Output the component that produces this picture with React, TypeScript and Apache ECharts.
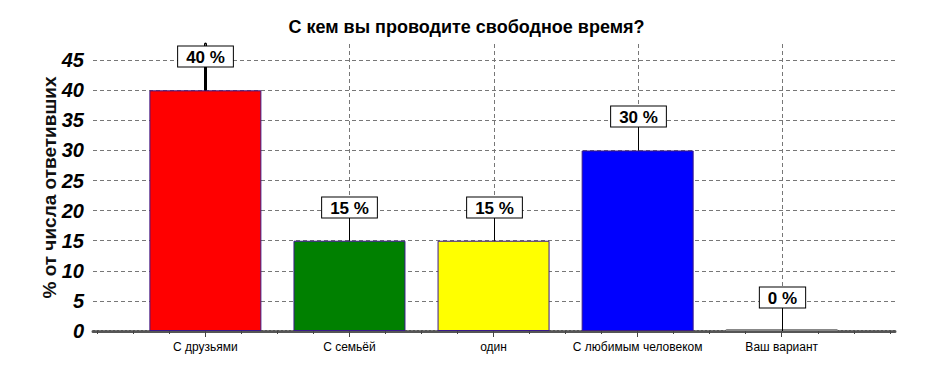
import React, { useEffect, useRef } from "react";
import * as echarts from "echarts";

const title = "С кем вы проводите свободное время?";
const yAxisName = "% от числа ответивших";
const categories = ["С друзьями", "С семьёй", "один", "С любимым человеком", "Ваш вариант"];
const values = [40, 15, 15, 30, 0];
const barColors = ["#ff0000", "#008000", "#ffff00", "#0000ff", "#ffffff"];
const yTicks = [0, 5, 10, 15, 20, 25, 30, 35, 40, 45];

const X_MIN = -0.78;
const X_MAX = 4.8;
const Y_MAX = 47.7;

export default function App() {
  const ref = useRef<HTMLDivElement>(null);
  useEffect(() => {
    document.body.style.margin = "0";
    if (!ref.current) return;
    const chart = echarts.init(ref.current, undefined, { renderer: "svg" });
    const pts = values.map((v, i) => [i, v]);
    const minorTicks: number[] = [];
    for (let k = -3; k <= 19; k++) minorTicks.push(k / 4);
    const majorTicks = categories.map((_, i) => i);
    chart.setOption({
      animation: false,
      backgroundColor: "#ffffff",
      title: {
        text: title,
        left: "center",
        top: 13,
        textStyle: { fontFamily: "Liberation Sans", fontWeight: "bold", fontSize: 18, color: "#000" },
      },
      grid: { left: 93, right: 36, top: 44, bottom: 39, containLabel: false },
      xAxis: [
        {
          type: "value",
          min: X_MIN,
          max: X_MAX,
          position: "bottom",
          axisLine: { show: true, onZero: false, lineStyle: { color: "#555", width: 3, type: [2, 2] } },
          axisTick: { show: true, customValues: minorTicks, length: 3, lineStyle: { color: "#444", width: 1 } },
          axisLabel: { show: false },
          splitLine: { show: false },
        },
        {
          type: "value",
          min: X_MIN,
          max: X_MAX,
          position: "bottom",
          axisLine: { show: false },
          axisTick: { show: true, customValues: majorTicks, length: 6, lineStyle: { color: "#444", width: 1 } },
          axisLabel: {
            show: true,
            customValues: majorTicks,
            margin: 10,
            fontFamily: "Liberation Sans",
            fontSize: 12,
            color: "#000",
            formatter: (v: number) => categories[Math.round(v)] ?? "",
          },
          splitLine: { show: false },
        },
      ],
      yAxis: {
        type: "value",
        min: 0,
        max: Y_MAX,
        interval: 5,
        name: yAxisName,
        nameLocation: "middle",
        nameGap: 34,
        nameMoveOverlap: false,
        nameTextStyle: { fontFamily: "Liberation Sans", fontWeight: "bold", fontSize: 19, color: "#111" },
        axisLine: { show: true, lineStyle: { color: "#000", width: 3 } },
        axisTick: { show: false },
        axisLabel: {
          margin: 9,
          fontFamily: "Liberation Sans",
          fontStyle: "italic",
          fontWeight: "bold",
          fontSize: 20,
          color: "#000",
          formatter: (v: number) => (yTicks.includes(Math.round(v * 100) / 100) ? String(v) : ""),
        },
        splitLine: { show: true, showMaxLine: false, lineStyle: { color: "#777", type: [4, 3], width: 1 } },
      },
      series: [
        {
          type: "custom",
          z: 1,
          silent: true,
          xAxisIndex: 0,
          data: pts,
          renderItem: (params: any, api: any) => {
            const i = api.value(0);
            const top = api.coord([i, Y_MAX]);
            const bot = api.coord([i, 0]);
            const x = Math.round(top[0]) + 0.5;
            return {
              type: "line",
              shape: { x1: x, y1: top[1], x2: x, y2: bot[1] },
              style: { stroke: "#777", lineWidth: 1, lineDash: [4, 3] },
            };
          },
        },
        {
          type: "bar",
          z: 2,
          xAxisIndex: 0,
          barWidth: 112,
          barMinHeight: 2,
          data: pts.map((p, i) => ({
            value: p,
            itemStyle: {
              color: barColors[i],
              borderColor: values[i] === 0 ? "#888" : "#3a1a8a",
              borderWidth: 1,
            },
          })),
        },
        {
          type: "custom",
          z: 3,
          silent: true,
          xAxisIndex: 0,
          data: pts,
          renderItem: (params: any, api: any) => {
            const i = api.value(0);
            const v = api.value(1);
            const p = api.coord([i, v]);
            const x = Math.round(p[0]) + 0.5;
            const boxBottom = Math.round(p[1] - 24);
            return {
              type: "group",
              children: [
                {
                  type: "line",
                  shape: { x1: x, y1: p[1], x2: x, y2: boxBottom },
                  style: { stroke: "#000", lineWidth: 1 },
                },
                {
                  type: "text",
                  x: x,
                  y: boxBottom + 0.5,
                  style: {
                    text: v + " %",
                    align: "center",
                    verticalAlign: "bottom",
                    font: "bold 17px Liberation Sans",
                    fill: "#000",
                    backgroundColor: "#fff",
                    borderColor: "#000",
                    borderWidth: 1,
                    padding: [2, 8, 1, 8],
                  },
                },
              ],
            };
          },
        },
      ],
    });
    return () => chart.dispose();
  }, []);
  return <div ref={ref} style={{ width: 933, height: 370 }} />;
}
